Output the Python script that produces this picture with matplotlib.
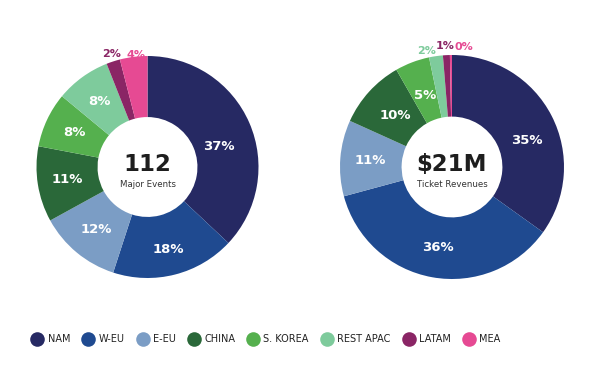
import matplotlib
matplotlib.use("Agg")
import matplotlib.pyplot as plt
from matplotlib.lines import Line2D
import numpy as np

regions = ["NAM", "W-EU", "E-EU", "CHINA", "S. KOREA", "REST APAC", "LATAM", "MEA"]
colors = ["#262963", "#1f4a90", "#7b9dc5", "#2a6839", "#55b04e", "#7ecb9c", "#8a2565", "#e64a93"]
events_pct = [37, 18, 12, 11, 8, 8, 2, 4]
revenue_pct = [35, 36, 11, 10, 5, 2, 1, 0.3]
events_labels = ["37%", "18%", "12%", "11%", "8%", "8%", "2%", "4%"]
revenue_labels = ["35%", "36%", "11%", "10%", "5%", "2%", "1%", "0%"]
center_big = ["112", "$21M"]
center_small = ["Major Events", "Ticket Revenues"]

plt.rcParams['font.family'] = ['DejaVu Sans']
W, H = 600, 372
fig = plt.figure(figsize=(6, 3.72), dpi=100)
fig.patch.set_facecolor("white")

def make_ax(cx, cy, r):
    return fig.add_axes([(cx - r) / W, (H - cy - r) / H, 2 * r / W, 2 * r / H])

def donut(ax, vals, labels, big, small, outside_offsets, angle_tweak, rad_tweak):
    wedges, _ = ax.pie(vals, colors=colors, startangle=90, counterclock=False,
                       radius=1.0, wedgeprops=dict(width=0.55, edgecolor="none"))
    ax.set_xlim(-1, 1); ax.set_ylim(-1, 1); ax.set_aspect("equal")
    ax.axis("off")
    for i, (w, lab) in enumerate(zip(wedges, labels)):
        ang = np.deg2rad((w.theta1 + w.theta2) / 2 + angle_tweak.get(i, 0))
        if i in outside_offsets:
            dx, dy = outside_offsets[i]
            ax.text(np.cos(ang) * 1.1 + dx, np.sin(ang) * 1.1 + dy, lab,
                    color=colors[i], fontsize=8, fontweight="bold",
                    ha="center", va="center", clip_on=False)
        else:
            r = rad_tweak.get(i, 0.73)
            ax.text(np.cos(ang) * r, np.sin(ang) * r, lab, color="white",
                    fontsize=9.5, fontweight="bold", ha="center", va="center")
    ax.text(0, 0.02, big, ha="center", va="center", fontsize=16.5,
            fontweight="bold", color="#1e1e1e")
    ax.text(0, -0.16, small, ha="center", va="center", fontsize=6.2, color="#333333")

ax1 = make_ax(147.5, 167, 111)
donut(ax1, events_pct, events_labels, center_big[0], center_small[0],
      {6: (0.02, -0.03), 7: (0.03, -0.08)}, {0: -7}, {0: 0.67, 1: 0.77})
ax2 = make_ax(452, 167, 112)
donut(ax2, revenue_pct, revenue_labels, center_big[1], center_small[1],
      {5: (-0.07, -0.055), 6: (-0.01, -0.02), 7: (0.12, -0.03)}, {0: -8},
      {0: 0.71, 3: 0.68, 4: 0.68})

handles = [Line2D([], [], marker="o", linestyle="none", markersize=10.5,
                  markerfacecolor=c, markeredgecolor="none") for c in colors]
leg = fig.legend(handles, regions, loc="center", bbox_to_anchor=(266 / W, (H - 339) / H),
                 ncol=8, frameon=False, fontsize=7, handletextpad=0.45,
                 columnspacing=1.27, handlelength=1.2)
for t in leg.get_texts():
    t.set_color("#222222")

fig.savefig("out.png", dpi=100)
